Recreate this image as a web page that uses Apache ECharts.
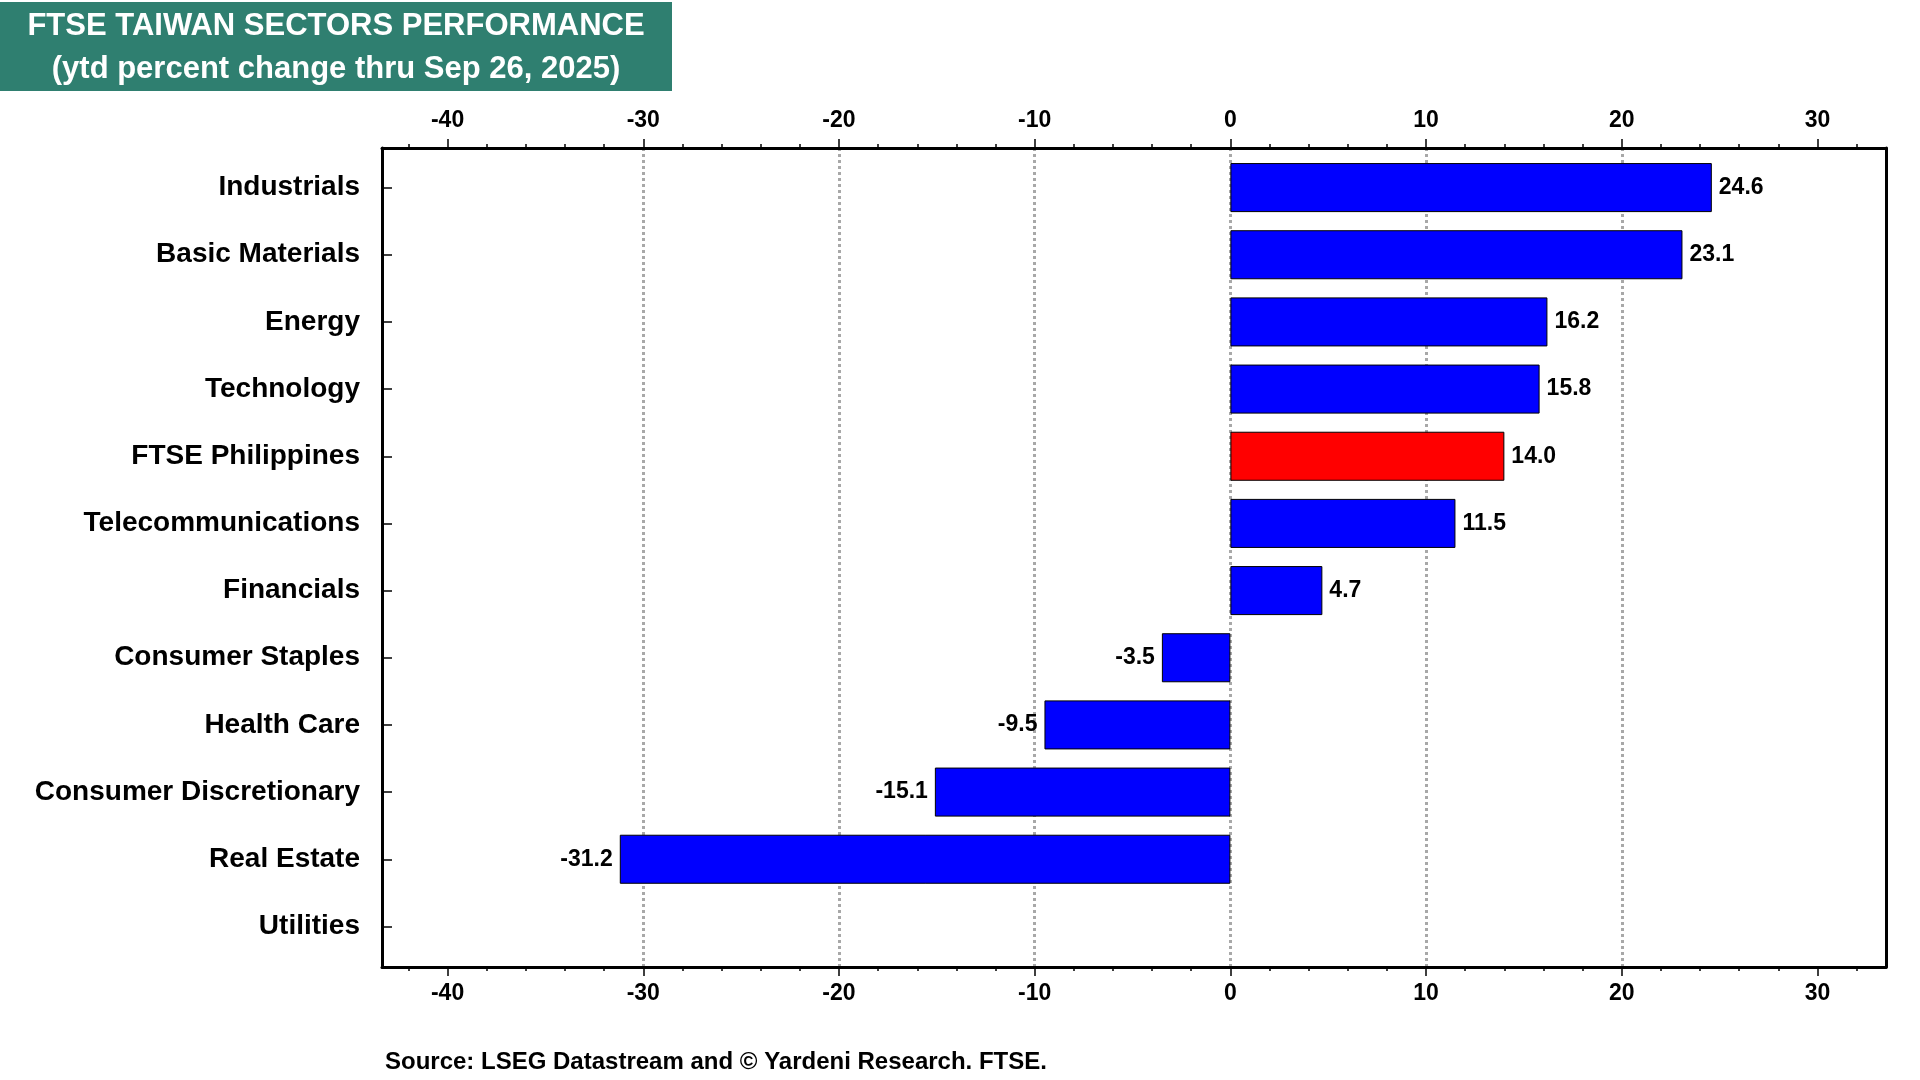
<!DOCTYPE html>
<html>
<head>
<meta charset="utf-8">
<script src="https://cdn.jsdelivr.net/npm/echarts@6/dist/echarts.min.js"></script>
<style>
html,body{margin:0;padding:0;background:#fff;}
#chart{width:1920px;height:1080px;}
</style>
</head>
<body>
<div id="chart"></div>
<script>
const categories = ['Industrials','Basic Materials','Energy','Technology','FTSE Philippines','Telecommunications','Financials','Consumer Staples','Health Care','Consumer Discretionary','Real Estate','Utilities'];
const values = [24.6, 23.1, 16.2, 15.8, 14.0, 11.5, 4.7, -3.5, -9.5, -15.1, -31.2, null];
const highlightName = 'FTSE Philippines';
const tickLabels = [-40, -30, -20, -10, 0, 10, 20, 30];
const titleLines = ['FTSE TAIWAN SECTORS PERFORMANCE', '(ytd percent change thru Sep 26, 2025)'];
const sourceText = 'Source: LSEG Datastream and \u00A9 Yardeni Research. FTSE.';

const FONT = '"Liberation Sans", Arial, sans-serif';
const xMin = -43.35, xMax = 33.5;

const chart = echarts.init(document.getElementById('chart'));

const barData = values.map((v, i) => ({
  value: v,
  itemStyle: { color: categories[i] === highlightName ? '#FF0000' : '#0000FF' },
  label: { position: v < 0 ? 'left' : 'right' }
}));

function xAxisCfg(pos, margin) {
  return {
    type: 'value', gridIndex: 0, position: pos, min: xMin, max: xMax,
    minInterval: 10, maxInterval: 10, splitNumber: 8,
    axisLine: { show: true, onZero: false, lineStyle: { color: '#000', width: 3 } },
    axisTick: { show: true, length: 9, customValues: tickLabels, lineStyle: { color: '#000', width: 1.5 } },
    minorTick: { show: true, splitNumber: 5, length: 4, lineStyle: { color: '#000', width: 1.5 } },
    axisLabel: {
      show: true, margin: margin, color: '#000', fontFamily: FONT, fontWeight: 'bold', fontSize: 23,
      customValues: tickLabels, showMinLabel: true, showMaxLabel: true,
      formatter: v => String(v)
    },
    splitLine: pos === 'bottom'
      ? { show: true, showMinLine: false, showMaxLine: false, lineStyle: { color: '#A8A8A8', width: 3, type: [3, 3] } }
      : { show: false },
    minorSplitLine: { show: false }
  };
}

const option = {
  backgroundColor: '#fff',
  animation: false,
  grid: [
    { left: 382, right: 34, top: 148, bottom: 113, show: false, containLabel: false },
    { left: 382, right: 34, top: 154, bottom: 120, show: false, containLabel: false }
  ],
  xAxis: [
    xAxisCfg('bottom', 15),
    xAxisCfg('top', 16),
    { type: 'value', gridIndex: 1, min: xMin, max: xMax, show: false, splitLine: { show: false } }
  ],
  yAxis: [
    { type: 'value', gridIndex: 0, position: 'left', min: 0, max: 1,
      axisLine: { show: true, onZero: false, lineStyle: { color: '#000', width: 3 } },
      axisTick: { show: false }, axisLabel: { show: false }, splitLine: { show: false } },
    { type: 'value', gridIndex: 0, position: 'right', min: 0, max: 1,
      axisLine: { show: true, onZero: false, lineStyle: { color: '#000', width: 3 } },
      axisTick: { show: false }, axisLabel: { show: false }, splitLine: { show: false } },
    { type: 'category', gridIndex: 1, data: categories, inverse: true, position: 'left',
      axisLine: { show: false, onZero: false },
      axisTick: { show: true, inside: true, alignWithLabel: true, length: 10, lineStyle: { color: '#000', width: 1.5 } },
      axisLabel: { color: '#000', fontFamily: FONT, fontWeight: 'bold', fontSize: 28, margin: 22 },
      splitLine: { show: false } }
  ],
  series: [{
    type: 'bar', data: barData, xAxisIndex: 2, yAxisIndex: 2, barCategoryGap: '27%',
    itemStyle: { borderColor: '#000', borderWidth: 1 },
    label: { show: true, color: '#000', fontFamily: FONT, fontWeight: 'bold', fontSize: 23, distance: 7,
      formatter: p => p.value == null ? '' : p.value.toFixed(1) }
  }],
  graphic: [
    { type: 'rect', left: 0, top: 2, shape: { width: 672, height: 89 }, style: { fill: '#2F7F70' }, z: 10 },
    { type: 'text', x: 336, y: 26, z: 11, style: { text: titleLines[0], fill: '#fff', font: 'bold 31px ' + FONT, align: 'center', verticalAlign: 'middle' } },
    { type: 'text', x: 336, y: 69, z: 11, style: { text: titleLines[1], fill: '#fff', font: 'bold 31px ' + FONT, align: 'center', verticalAlign: 'middle' } },
    { type: 'text', x: 385, y: 1062, z: 11, style: { text: sourceText, fill: '#000', font: 'bold 24px ' + FONT, align: 'left', verticalAlign: 'middle' } }
  ]
};
chart.setOption(option);
</script>
</body>
</html>
